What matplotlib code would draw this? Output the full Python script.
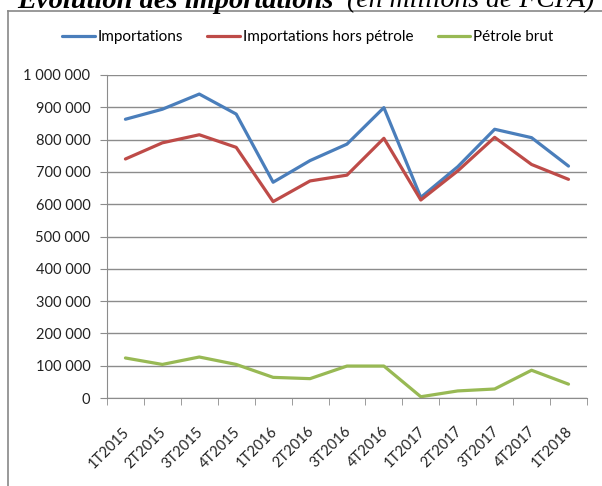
import matplotlib.pyplot as plt
from matplotlib.lines import Line2D
import matplotlib.transforms as mtransforms
import numpy as np

quarters = ['1T2015', '2T2015', '3T2015', '4T2015', '1T2016', '2T2016', '3T2016',
            '4T2016', '1T2017', '2T2017', '3T2017', '4T2017', '1T2018']
importations = [863000, 894000, 941000, 879000, 668000, 735000, 786000,
                899000, 621000, 716000, 832000, 806000, 718000]
hors_petrole = [740000, 790000, 815000, 776000, 608000, 672000, 690000,
                804000, 613000, 703000, 807000, 723000, 677000]
petrole_brut = [124000, 104000, 127000, 104000, 64000, 60000, 99000,
                99000, 4000, 22000, 28000, 86000, 43000]
yticks = [0, 100000, 200000, 300000, 400000, 500000, 600000, 700000, 800000, 900000, 1000000]

plt.rcParams['font.family'] = ['Lato', 'DejaVu Sans']

fig = plt.figure(figsize=(6.02, 4.86), dpi=100)
ax = fig.add_axes([0.1777, 0.181, 0.7973, 0.6647])

x = np.arange(len(quarters))
ax.plot(x, importations, color='#4A7EBB', lw=2.3, label='Importations', solid_capstyle='round')
ax.plot(x, hors_petrole, color='#BE4B48', lw=2.3, label='Importations hors pétrole', solid_capstyle='round')
ax.plot(x, petrole_brut, color='#98B954', lw=2.3, label='Pétrole brut', solid_capstyle='round')

ax.set_xlim(-0.5, len(quarters) - 0.5)
ax.set_ylim(0, 1000000)
ax.set_yticks(yticks)
ax.set_yticklabels([f'{v:,}'.replace(',', ' ') for v in yticks], fontsize=10.5, color='#222222')
ax.yaxis.grid(True, color='#8c8c8c', lw=1)
ax.set_axisbelow(True)
ax.tick_params(axis='y', length=5, color='#8c8c8c', pad=7)

ax.set_xticks(x)
ax.set_xticklabels(quarters, rotation=45, ha='right', rotation_mode='anchor', fontsize=10.5, color='#222222')
ax.set_xticks(np.arange(-0.5, len(quarters)), minor=True)
ax.tick_params(axis='x', which='major', length=0, pad=19)
ax.tick_params(axis='x', which='minor', length=5, color='#8c8c8c')
# nudge rotated labels a little to the left
shift = mtransforms.ScaledTranslation(-3 / 100, 0, fig.dpi_scale_trans)
for lab in ax.get_xticklabels():
    lab.set_transform(lab.get_transform() + shift)

for s in ['top', 'right']:
    ax.spines[s].set_visible(False)
for s in ['left', 'bottom']:
    ax.spines[s].set_color('#8c8c8c')

ax.legend(loc='center', bbox_to_anchor=(0.511, 0.924), bbox_transform=fig.transFigure,
          ncol=3, frameon=False, fontsize=11, handlelength=2.15, handletextpad=0.15,
          columnspacing=1.6)

# frame around the chart, cut at the picture edges
fig.add_artist(Line2D([8 / 602, 8 / 602], [0, 1 - 11 / 486], transform=fig.transFigure, color='#888888', lw=1.2))
fig.add_artist(Line2D([8 / 602, 1], [1 - 11 / 486, 1 - 11 / 486], transform=fig.transFigure, color='#888888', lw=1.2))

# title, cut off by the top edge as in the source document
fig.text(17 / 602, 1 - 7.5 / 486, 'Évolution des importations', family='Liberation Serif',
         fontsize=20.5, weight='bold', style='italic', va='baseline', ha='left')
fig.text(347 / 602, 1 - 7.5 / 486, '(en millions de FCFA)', family='Liberation Serif',
         fontsize=20, style='italic', va='baseline', ha='left')

fig.savefig('out.png', dpi=100)
